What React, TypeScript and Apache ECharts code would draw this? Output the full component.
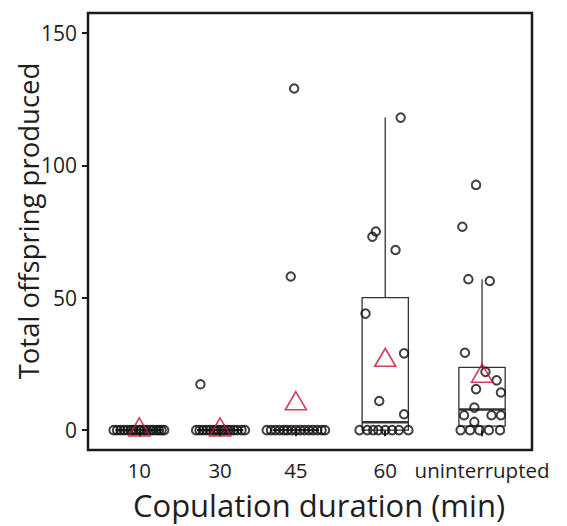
import React, { useEffect, useRef } from "react";
import * as echarts from "echarts";

// ---- data ----
const categories = ["10", "30", "45", "60", "uninterrupted"];

// offspring counts per group, with the horizontal jitter of each point (in category units)
const offspring10 = [0, 0, 0, 0, 0, 0, 0, 0, 0, 0, 0, 0, 0, 0, 0, 0, 0, 0];
const jitter10 = [-0.3, -0.26, -0.22, -0.18, -0.14, -0.1, -0.07, -0.04, 0.0, 0.02, 0.06, 0.09, 0.13, 0.16, 0.2, 0.23, 0.26, 0.29];

const offspring30 = [17.3, 0, 0, 0, 0, 0, 0, 0, 0, 0, 0, 0, 0, 0, 0, 0, 0];
const jitter30 = [-0.23, -0.28, -0.24, -0.2, -0.16, -0.12, -0.08, -0.05, -0.02, 0.02, 0.05, 0.09, 0.12, 0.16, 0.2, 0.25, 0.29];

const offspring45 = [129, 58, 0, 0, 0, 0, 0, 0, 0, 0, 0, 0, 0, 0, 0, 0, 0];
const jitter45 = [-0.02, -0.06, -0.34, -0.29, -0.24, -0.19, -0.14, -0.1, -0.05, 0.0, 0.05, 0.1, 0.15, 0.2, 0.25, 0.3, 0.34];

const offspring60 = [118, 75, 73, 68, 44, 29, 11, 6, 0, 0, 0, 0, 0, 0, 0, 0];
const jitter60 = [0.18, -0.11, -0.15, 0.12, -0.23, 0.22, -0.07, 0.22, -0.3, -0.21, -0.14, -0.08, 0.0, 0.08, 0.16, 0.27];

const offspringUn = [92.6, 76.8, 57, 56.3, 29.2, 22, 18.8, 15.5, 14.2, 8.5, 5.6, 5.6, 5.6, 3.1, 0, 0, 0, 0, 0];
const jitterUn = [-0.07, -0.23, -0.16, 0.09, -0.2, 0.04, 0.17, -0.07, 0.22, -0.09, -0.21, 0.11, 0.22, -0.09, -0.25, -0.14, -0.03, 0.08, 0.21];

// group means (triangles)
const means = [1.2, 1.2, 11.1, 27.5, 21.5];

// box statistics: [lower whisker, Q1, median, Q3, upper whisker]
const boxStats = [
  [0, 0, 0, 0, 0],
  [0, 0, 0, 0, 0],
  [0, 0, 0, 0, 0],
  [0, 0, 3, 50, 118],
  [0, 1.5, 7.8, 23.7, 57],
];

const yTicks = [0, 50, 100, 150];

// ---- layout ----
const catPositions = [1, 1.943, 2.827, 3.87, 5];
const X_MIN = 0.401;
const X_MAX = 5.583;
const BOX_WIDTH = 0.54;

const groups = [
  [offspring10, jitter10],
  [offspring30, jitter30],
  [offspring45, jitter45],
  [offspring60, jitter60],
  [offspringUn, jitterUn],
];

const FONT = "'Open Sans', 'Noto Sans', sans-serif";
const TEXT = "#1e1e1e";

export default function App() {
  const ref = useRef<HTMLDivElement>(null);

  useEffect(() => {
    if (!ref.current) return;
    const chart = echarts.init(ref.current, null, { renderer: "svg" });

    const pointData: number[][] = [];
    groups.forEach(([vals, jit], gi) => {
      vals.forEach((v, i) => pointData.push([catPositions[gi] + jit[i], v]));
    });
    const meanData = means.map((m, i) => [catPositions[i], m]);
    const boxData = boxStats.map((s, i) => [catPositions[i], ...s]);

    const labelFor = (v: number) => {
      let best = 0;
      catPositions.forEach((p, i) => {
        if (Math.abs(p - v) < Math.abs(catPositions[best] - v)) best = i;
      });
      return categories[best];
    };

    chart.setOption({
      animation: false,
      backgroundColor: "#fff",
      grid: {
        left: 88,
        top: 13,
        width: 444,
        height: 437,
        show: true,
        borderColor: "#1a1a1a",
        borderWidth: 2.5,
        backgroundColor: "transparent",
        containLabel: false,
        outerBoundsMode: "none",
      },
      xAxis: {
        type: "value",
        min: X_MIN,
        max: X_MAX,
        splitLine: { show: false },
        axisLine: { show: false },
        axisTick: {
          show: true,
          length: 6,
          inside: false,
          customValues: catPositions,
          lineStyle: { color: "#1a1a1a", width: 2 },
        },
        axisLabel: {
          customValues: catPositions,
          formatter: (v: number) => labelFor(v),
          fontFamily: FONT,
          fontSize: 20.5,
          lineHeight: 21,
          color: TEXT,
          margin: 9,
        },
      },
      yAxis: {
        type: "value",
        min: -7.5,
        max: 157.5,
        splitLine: { show: false },
        axisLine: { show: false },
        axisTick: {
          show: true,
          length: 6,
          inside: false,
          customValues: yTicks,
          lineStyle: { color: "#1a1a1a", width: 2 },
        },
        axisLabel: {
          customValues: yTicks,
          fontFamily: FONT,
          fontSize: 21,
          color: TEXT,
          margin: 11,
        },
      },
      graphic: [
        {
          type: "text",
          x: 28,
          y: 221,
          rotation: Math.PI / 2,
          style: {
            text: "Total offspring produced",
            font: `27.5px ${FONT}`,
            fill: TEXT,
            textAlign: "center",
            textVerticalAlign: "middle",
          },
        },
        {
          type: "text",
          x: 319,
          y: 504.5,
          style: {
            text: "Copulation duration (min)",
            font: `31px ${FONT}`,
            lineHeight: 31,
            fill: TEXT,
            textAlign: "center",
            textVerticalAlign: "middle",
          },
        },
      ],
      series: [
        {
          type: "custom",
          z: 1,
          data: boxData,
          encode: { x: 0, y: [1, 2, 3, 4, 5] },
          renderItem: (params: any, api: any) => {
            const p = api.value(0);
            const mn = api.value(1);
            const q1 = api.value(2);
            const md = api.value(3);
            const q3 = api.value(4);
            const mx = api.value(5);
            const h = BOX_WIDTH / 2;
            const tl = api.coord([p - h, q3]);
            const br = api.coord([p + h, q1]);
            const top = api.coord([p, mx]);
            const bot = api.coord([p, mn]);
            const uq = api.coord([p, q3]);
            const lq = api.coord([p, q1]);
            const ml = api.coord([p - h, md]);
            const mr = api.coord([p + h, md]);
            const line = { stroke: "#333", lineWidth: 1.3 };
            return {
              type: "group",
              children: [
                { type: "line", shape: { x1: uq[0], y1: uq[1], x2: top[0], y2: top[1] }, style: line },
                { type: "line", shape: { x1: lq[0], y1: lq[1], x2: bot[0], y2: bot[1] }, style: line },
                {
                  type: "rect",
                  shape: { x: tl[0], y: tl[1], width: br[0] - tl[0], height: br[1] - tl[1] },
                  style: { fill: "#fff", stroke: "#333", lineWidth: 1.3 },
                },
                { type: "line", shape: { x1: ml[0], y1: ml[1], x2: mr[0], y2: mr[1] }, style: { stroke: "#333", lineWidth: 2.4 } },
              ],
            };
          },
        },
        {
          type: "scatter",
          z: 2,
          data: pointData,
          symbol: "circle",
          symbolSize: 8.5,
          itemStyle: { color: "transparent", borderColor: "#111", borderWidth: 2 },
          silent: true,
        },
        {
          type: "scatter",
          z: 3,
          data: meanData,
          symbol: "triangle",
          symbolSize: [21, 18],
          itemStyle: { color: "transparent", borderColor: "#C8102E", borderWidth: 1.6 },
          silent: true,
        },
      ],
    });

    return () => chart.dispose();
  }, []);

  return (
    <div
      ref={ref}
      style={{ position: "fixed", left: 0, top: 0, width: 567, height: 526, background: "#fff" }}
    />
  );
}
